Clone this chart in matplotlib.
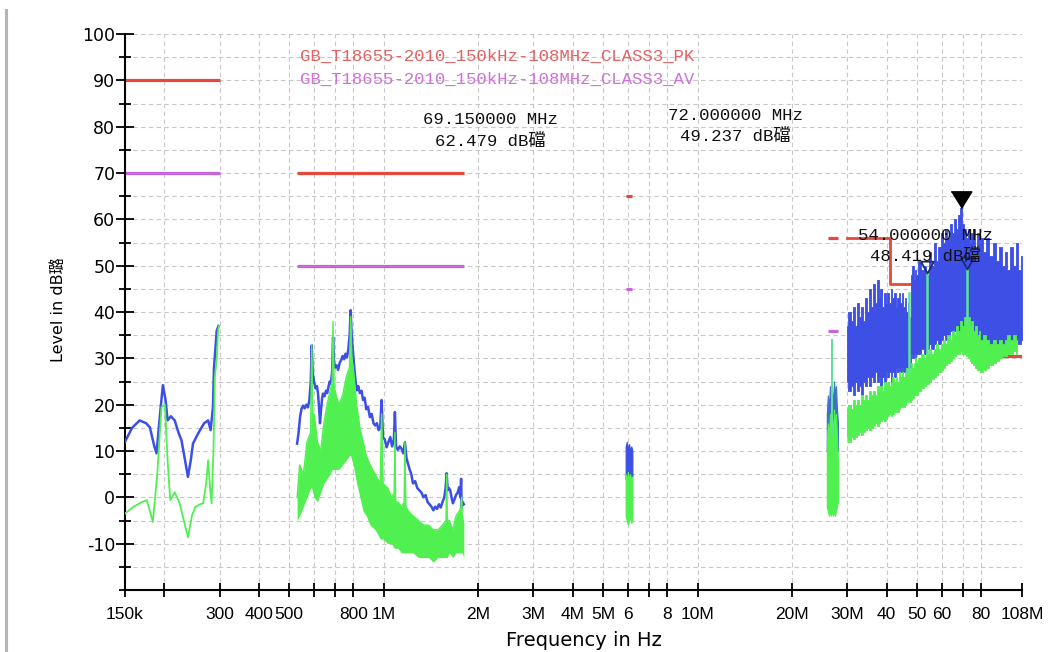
import matplotlib
matplotlib.use('Agg')
import matplotlib.pyplot as plt
from matplotlib.lines import Line2D
from matplotlib.ticker import FixedLocator, NullLocator, MultipleLocator

plt.rcParams['axes.unicode_minus'] = False

# ---------------- data ----------------
# limit lines (start Hz, stop Hz, level dB)
pk_limits = [(150e3, 300e3, 90), (530e3, 1.8e6, 70), (5.9e6, 6.2e6, 65), (26e6, 28e6, 56), (87e6, 108e6, 30.5)]
av_limits = [(150e3, 300e3, 70), (530e3, 1.8e6, 50), (5.9e6, 6.2e6, 45), (26e6, 28e6, 36)]
pk_step_f = [30e6, 41e6, 41e6, 54e6]
pk_step_l = [56, 56, 46, 46]

# segment 1 (kHz, dB)
s1_blue = [(150, 12), (158, 15), (167, 16.6), (175, 16), (180, 15.1), (186, 11), (189, 9.5), (194, 18),
           (198, 24.2), (202, 21), (205, 16.6), (210, 17.5), (216, 16.6), (222, 14), (227, 12.3), (233, 8),
           (238, 4.4), (243, 8), (247, 11.6), (253, 13), (260, 14.5), (268, 16), (276, 16.6), (281, 14.5),
           (286, 19.5), (288, 27.8), (294, 36), (298, 37)]
s1_green = [(150, -3.5), (160, -2), (170, -1), (176, -0.6), (184, -5.3), (190, 5), (196, 19.5), (201, 20),
            (205, 8), (209, -0.6), (216, 1.1), (224, -1.3), (231, -5), (238, -8.6), (245, -4), (251, -2.1),
            (260, -1.5), (266, -1.3), (272, 3), (276, 8), (280, 2), (283, -1.3), (287, 10), (290, 26),
            (294, 30), (297, 36), (299, 37)]

# segment 2 (kHz, dB)
s2_blue = [(530, 11.6), (536, 14), (542, 17.5), (548, 19.2), (554, 19.8), (560, 19.2), (567, 20), (574, 19.4),
           (580, 21), (586, 25), (590, 32.8), (594, 27), (600, 25), (607, 23.5), (613, 24), (618, 22.4),
           (623, 19), (627, 16), (632, 19), (637, 21.5), (641, 22.4), (648, 21.8), (655, 23), (661, 22.5),
           (667, 23.8), (673, 25), (679, 24.5), (685, 27), (690, 34.6), (695, 29), (700, 28), (708, 28.5),
           (716, 27.5), (724, 29), (732, 29.6), (740, 30.5), (748, 29.8), (756, 31), (764, 30.2), (772, 32),
           (779, 35), (785, 40.4), (791, 35), (798, 31.7), (806, 28), (814, 25), (822, 23.1), (830, 24),
           (840, 22.5), (850, 23), (860, 21), (870, 21.5), (880, 19), (892, 19.5), (904, 17.3), (916, 18),
           (928, 16), (940, 15.5), (952, 16), (964, 14.5), (975, 15), (985, 21), (995, 13), (1008, 12.5),
           (1022, 10.8), (1036, 12), (1050, 13), (1064, 11), (1078, 12.5), (1086, 18.4), (1095, 11),
           (1110, 10.2), (1125, 11), (1140, 10.5), (1155, 9.5), (1169, 11.9), (1182, 8.5), (1195, 7.3),
           (1210, 6), (1225, 5), (1240, 3), (1260, 3.5), (1280, 2), (1300, 1.5), (1320, 1), (1340, 0),
           (1360, 0.5), (1380, -1), (1400, -1.5), (1420, -2), (1440, -2.8), (1460, -2), (1480, -2.5),
           (1500, -1.5), (1520, -2.2), (1540, -1), (1560, 0), (1575, 2), (1587, 5.2), (1600, 1.5),
           (1615, 2), (1630, 1.5), (1645, 0), (1662, -1.3), (1680, -0.5), (1700, 0.5), (1720, 1),
           (1740, 2.2), (1755, 0), (1765, 4), (1772, -2.2), (1785, -1), (1800, -1.5)]
# green band (kHz, low, high)
s2_green = [(530, -5, 0), (540, -4, 7), (555, -2, 5), (570, 0, 12), (585, 2, 14), (590, 2, 33), (595, 1, 16),
            (600, 0, 18), (615, -1, 12), (630, 1, 10), (645, 3, 16), (660, 4, 20), (675, 5, 23), (685, 6, 25),
            (690, 6, 38), (695, 6, 24), (705, 6, 22), (720, 6, 20), (740, 7, 22), (760, 8, 26), (778, 9, 28),
            (785, 9, 39), (792, 8, 30), (800, 7, 28), (820, 3, 20), (840, 0, 15), (860, -3, 12), (880, -4, 9),
            (905, -6, 7), (940, -7, 5), (975, -9, 3), (985, -9, 18), (995, -9, 3), (1030, -10, 2),
            (1060, -10, 0), (1080, -11, 1), (1086, -11, 14), (1092, -11, -1), (1110, -11, -1), (1140, -12, -2),
            (1162, -12, -1), (1169, -12, 12), (1176, -12, -2), (1200, -12, -3), (1240, -12, -4),
            (1290, -13, -5), (1340, -13, -6), (1390, -13, -6), (1440, -14, -7), (1490, -13, -7),
            (1540, -13, -6), (1580, -13, -5), (1587, -13, 5), (1594, -13, -5), (1620, -12, -5),
            (1660, -13, -7), (1700, -12, -4), (1740, -12, -3), (1765, -12, -2), (1772, -12, 0),
            (1780, -12, -4), (1800, -13, -6)]

# 6 MHz strip (MHz)
s3_f = [5.9, 5.95, 6.0, 6.05, 6.1, 6.15, 6.2]
s3_blue_hi = [11, 12, 10.5, 11.5, 10, 11, 10]
s3_blue_lo = [4, 5, 4.5, 5, 4, 5, 4.5]
s3_green_hi = [5, 4, 5.5, 4, 5, 3.5, 4.5]
s3_green_lo = [-4, -5, -6, -5, -4.5, -5.5, -5]

# 26-28 MHz strip (MHz)
s4_f = [25.8, 26.0, 26.2, 26.4, 26.6, 26.8, 27.0, 27.2, 27.4, 27.6, 27.8, 28.0]
s4_blue_hi = [18, 22, 19, 24, 21, 23, 20, 25, 22, 24, 19, 16]
s4_blue_lo = [10, 12, 11, 12, 10, 13, 11, 12, 10, 12, 11, 10]
s4_green_hi = [12, 16, 13, 18, 15, 17, 14, 19, 16, 18, 13, 8]
s4_green_lo = [-2, -3, -4, -3, -4, -3, -4, -3, -4, -3, -2, -1]
s4_spike = (26.9, 14, 34)

# 30-108 MHz band (MHz)
rb_f = [30, 30.5, 31, 31.5, 32, 32.5, 33, 33.5, 34, 34.5,
        35, 35.5, 36, 36.5, 37, 37.5, 38, 38.5, 39, 39.5,
        40, 40.5, 41, 41.5, 42, 42.5, 43, 43.5, 44, 44.5,
        45, 45.5, 46, 46.5, 47, 47.5, 48, 48.5, 49, 49.5,
        50, 51, 52, 53, 54, 55, 56, 57, 58, 59,
        60, 61, 62, 63, 64, 65, 66, 67, 68, 69,
        70, 71, 72, 73, 74, 75, 76, 77, 78, 79,
        80, 82, 84, 86, 88, 90, 92, 94, 96, 98,
        100, 102, 104, 106, 108]
rb_blue_hi = [37, 40, 38, 41, 37, 42, 39, 41, 38, 43,
              40, 45, 41, 46, 42, 47, 43, 45, 41, 44,
              42, 44, 42, 45, 43, 44, 41, 43, 44, 42,
              44, 41, 43, 40, 42, 39, 48, 50, 47, 49,
              48, 51, 49, 50, 48, 53, 50, 55, 51, 54,
              57, 55, 58, 56, 59, 57, 60, 58, 61, 62.5,
              59, 58, 56, 58, 55, 57, 58, 54, 57, 55,
              56, 53, 56, 52, 55, 51, 54, 50, 53, 49,
              54, 50, 55, 49, 52]
rb_blue_lo = [25, 23, 24, 22, 25, 23, 24, 22, 25, 24,
              26, 24, 26, 25, 27, 25, 26, 24, 26, 25,
              27, 26, 27, 25, 27, 26, 28, 27, 28, 27,
              28, 27, 28, 27, 26, 28, 31, 30, 31, 30,
              31, 31, 32, 31, 32, 33, 32, 33, 34, 33,
              34, 35, 34, 35, 36, 35, 36, 37, 36, 37,
              36, 37, 36, 35, 34, 35, 34, 33, 34, 33,
              32, 33, 32, 33, 32, 33, 32, 33, 34, 33,
              34, 33, 34, 33, 34]
rb_green_hi = [19, 20, 19, 21, 20, 21, 20, 22, 21, 22,
               21, 23, 22, 23, 22, 24, 23, 24, 23, 25,
               24, 25, 24, 25, 26, 25, 26, 25, 27, 26,
               27, 26, 27, 28, 27, 28, 29, 28, 29, 30,
               29, 30, 31, 30, 31, 32, 31, 32, 33, 32,
               33, 34, 33, 35, 34, 36, 35, 37, 36, 38,
               37, 39, 38, 39, 37, 38, 36, 37, 35, 36,
               34, 35, 34, 33, 34, 33, 34, 33, 34, 35,
               34, 35, 34]
rb_green_lo = [13, 12, 13, 12.5, 13, 13.5, 14, 13.5, 14, 14.5,
               15, 14.5, 15, 15.5, 16, 15.5, 16, 16.5, 17, 16.5,
               17, 17.5, 18, 17.5, 18, 18.5, 19, 18.5, 19, 19.5,
               20, 19.5, 20, 20.5, 21, 20.5, 21, 21.5, 22, 22.5,
               22, 23, 23.5, 24, 24.5, 25, 25.5, 26, 26.5, 27,
               27.5, 28, 28.5, 29, 29.5, 30, 30.5, 31, 31, 31.5,
               31, 31, 30.5, 30, 29.5, 29, 28.5, 28, 27.5, 27.5,
               27, 27.5, 28, 28.5, 29, 29.5, 30, 30.5, 30.5, 31,
               31, 31.5, 31]
rb_green_spikes = [(47, 27, 44), (54, 31, 48.419), (72, 38, 49.237)]

# markers
peak_marker = (69.15e6, 62.479)
open_markers_f = [54e6, 72e6]
open_markers_l = [48.419, 49.237]

# ticks
x_ticks = [150e3, 200e3, 300e3, 400e3, 500e3, 600e3, 700e3, 800e3, 1e6, 2e6, 3e6, 4e6, 5e6, 6e6, 7e6, 8e6,
           10e6, 20e6, 30e6, 40e6, 50e6, 60e6, 70e6, 80e6, 108e6]
x_labels = ['150k', '', '300', '400', '500', '', '', '800', '1M', '2M', '3M', '4M', '5M', '6', '', '8',
            '10M', '20M', '30M', '40', '50', '60', '', '80', '108M']

legend_pk = 'GB_T18655-2010_150kHz-108MHz_CLASS3_PK'
legend_av = 'GB_T18655-2010_150kHz-108MHz_CLASS3_AV'
marker_texts = [('69.150000 MHz', '62.479 dB礑'), ('72.000000 MHz', '49.237 dB礑'), ('54.000000 MHz', '48.419 dB礑')]

# ---------------- style ----------------
BLUE = '#3d4fe4'
GREEN = '#4ff04f'
RED = '#e44a3c'
MAG = '#c864dc'
SPIKE = '#5fe39a'
MONO = ['Liberation Mono', 'Noto Sans CJK SC']

W, H = 1059, 652
fig = plt.figure(figsize=(W / 100, H / 100), dpi=100)
ax = fig.add_axes([125 / W, 1 - 590 / H, (1022 - 125) / W, (590 - 34) / H])
ax.set_xscale('log')
ax.set_xlim(150e3, 108e6)
ax.set_ylim(-20, 100)

# limits
for f0, f1, lv in pk_limits:
    ax.plot([f0, f1], [lv, lv], color=RED, lw=2.3, zorder=2, solid_capstyle='butt')
for f0, f1, lv in av_limits:
    ax.plot([f0, f1], [lv, lv], color=MAG, lw=2.3, zorder=2, solid_capstyle='butt')
ax.plot(pk_step_f, pk_step_l, color=RED, lw=2.0, zorder=2)

# segment 1
ax.plot([p[0] * 1e3 for p in s1_blue], [p[1] for p in s1_blue], color=BLUE, lw=1.8, zorder=3)
ax.plot([p[0] * 1e3 for p in s1_green], [p[1] for p in s1_green], color=GREEN, lw=1.3, zorder=4)

# segment 2
ax.plot([p[0] * 1e3 for p in s2_blue], [p[1] for p in s2_blue], color=BLUE, lw=1.8, zorder=3)
g2f = [p[0] * 1e3 for p in s2_green]
ax.fill_between(g2f, [p[1] for p in s2_green], [p[2] for p in s2_green], color=GREEN, lw=0, zorder=4)
ax.plot(g2f, [p[2] for p in s2_green], color=GREEN, lw=1.0, zorder=4)

# 6 MHz strip
f3 = [v * 1e6 for v in s3_f]
ax.fill_between(f3, s3_blue_lo, s3_blue_hi, color=BLUE, lw=0.8, ec=BLUE, zorder=3)
ax.fill_between(f3, s3_green_lo, s3_green_hi, color=GREEN, lw=0.8, ec=GREEN, zorder=4)

# 26-28 MHz strip
f4 = [v * 1e6 for v in s4_f]
ax.fill_between(f4, s4_blue_lo, s4_blue_hi, color='#3f6fc8', lw=0.8, ec='#3f6fc8', zorder=3)
ax.fill_between(f4, s4_green_lo, s4_green_hi, color=GREEN, lw=0.8, ec=GREEN, zorder=4)
ax.plot([s4_spike[0] * 1e6] * 2, [s4_spike[1], s4_spike[2]], color=SPIKE, lw=1.5, zorder=4)

# 30-108 MHz
fr = [v * 1e6 for v in rb_f]
ax.fill_between(fr, rb_blue_lo, rb_blue_hi, step='mid', color=BLUE, lw=0.6, ec=BLUE, zorder=3)
ng = len(rb_green_hi)
ax.fill_between(fr[:ng], rb_green_lo, rb_green_hi, step='mid', color=GREEN, lw=0.6, ec=GREEN, zorder=4)
for fs, l0, l1 in rb_green_spikes:
    ax.plot([fs * 1e6] * 2, [l0, l1], color=SPIKE, lw=1.8, zorder=4)

# markers
ax.plot([peak_marker[0]], [peak_marker[1]], marker=[(-0.62, 1), (0.62, 1), (0, 0)], ms=24,
        color='black', mec='black', ls='none', zorder=6, clip_on=False)
ax.plot(open_markers_f, open_markers_l, marker=[(-0.55, 1), (0.55, 1), (0, 0), (-0.55, 1)], ms=17,
        mfc='none', mec='#1b2a7a', mew=1.3, ls='none', zorder=6)

# axes styling
ax.xaxis.set_major_locator(FixedLocator(x_ticks))
ax.xaxis.set_minor_locator(NullLocator())
ax.set_xticklabels(x_labels, family=['Liberation Sans'], fontsize=12.5)
ax.yaxis.set_major_locator(MultipleLocator(10))
ax.yaxis.set_minor_locator(MultipleLocator(5))
ax.set_yticks(list(range(-10, 101, 10)))
ax.tick_params(axis='y', which='major', direction='inout', length=13, width=1.3, pad=0.5, labelsize=12.5)
ax.tick_params(axis='y', which='minor', direction='inout', length=9, width=1.3)
ax.tick_params(axis='x', which='major', direction='inout', length=10, width=1.3, pad=7)
for s in ['top', 'right']:
    ax.spines[s].set_visible(False)
for s in ['left', 'bottom']:
    ax.spines[s].set_linewidth(1.5)
ax.set_axisbelow(True)
ax.grid(True, which='both', axis='y', ls=(0, (4, 3)), color='#c8c8c8', lw=0.8)
ax.grid(True, which='major', axis='x', ls=(0, (4, 3)), color='#c8c8c8', lw=0.8)

ax.set_xlabel('Frequency in Hz', fontsize=14)
ax.xaxis.set_label_coords((584 - 125) / 897, (590 - 631) / 556)
ax.set_ylabel('Level in dB璐', fontsize=11.5, family=['DejaVu Sans', 'Noto Sans CJK SC'])
ax.yaxis.set_label_coords((66 - 125) / 897, (590 - 310) / 556)


def ftext(x, y, s, **kw):
    fig.text(x / W, 1 - y / H, s, **kw)


ftext(300, 56, legend_pk, color='#e06464', family=MONO, fontsize=12.5, va='center', ha='left')
ftext(300, 79, legend_av, color='#d070dc', family=MONO, fontsize=12.5, va='center', ha='left')
mpos = [(490, 120, 141), (735, 116, 136), (925, 236, 256)]
for (t1, t2), (x, y1, y2) in zip(marker_texts, mpos):
    ftext(x, y1, t1, family=MONO, fontsize=12.5, ha='center', va='center', color='#111111', zorder=10)
    ftext(x, y2, t2, family=MONO, fontsize=12.5, ha='center', va='center', color='#111111', zorder=10)

fig.add_artist(Line2D([6 / W, 6 / W], [0, 1 - 10 / H], color='#b4b4b4', lw=2.2))

fig.savefig('out.png', dpi=100)
